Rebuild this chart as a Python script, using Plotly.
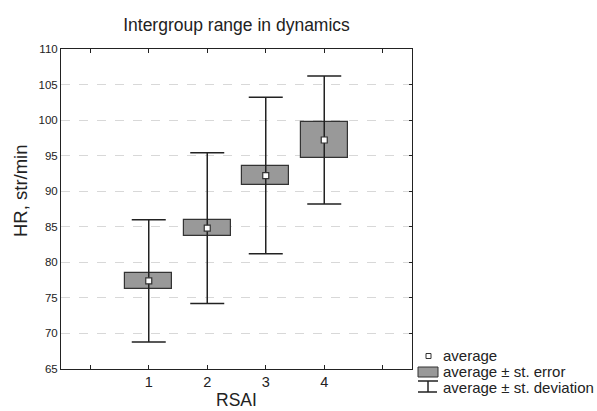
import plotly.graph_objects as go

categories = [1, 2, 3, 4]
mean_vals = [77.4, 84.8, 92.2, 97.2]
se_vals = [1.15, 1.1, 1.35, 2.55]
sd_vals = [8.6, 10.6, 11.0, 9.0]
y_ticks = [65, 70, 75, 80, 85, 90, 95, 100, 105, 110]

FONT = "Liberation Sans, Arial, sans-serif"
W, H = 597, 411
L, R, T, B = 61, 185, 49, 42
pw, ph = W - L - R, H - T - B

def px(x):
    return (x - L) / pw

def py(y):
    return (H - B - y) / ph

fig = go.Figure()

# whiskers (mean ± sd)
fig.add_trace(go.Scatter(
    x=categories, y=mean_vals, mode="markers",
    marker=dict(size=1, color="rgba(0,0,0,0)"),
    error_y=dict(type="data", array=sd_vals, symmetric=True,
                 color="#222", thickness=1.5, width=17),
    showlegend=False, hoverinfo="skip"))

# boxes (mean ± se)
fig.add_trace(go.Bar(
    x=categories,
    y=[2 * s for s in se_vals],
    base=[m - s for m, s in zip(mean_vals, se_vals)],
    width=0.8,
    marker=dict(color="#999999", line=dict(color="#333", width=1.2)),
    showlegend=False, hoverinfo="skip"))

# means
fig.add_trace(go.Scatter(
    x=categories, y=mean_vals, mode="markers",
    marker=dict(symbol="square", size=6, color="white",
                line=dict(color="#333", width=1.2)),
    showlegend=False, hoverinfo="skip"))

# invisible trace to activate right-hand tick axis
fig.add_trace(go.Scatter(x=[None], y=[None], yaxis="y2", showlegend=False,
                         hoverinfo="skip"))

fig.update_layout(
    width=W, height=H,
    margin=dict(l=L, r=R, t=T, b=B, autoexpand=False),
    paper_bgcolor="white", plot_bgcolor="white",
    font=dict(family=FONT, color="#222"),
    title=dict(text="Intergroup range in dynamics", x=(L + pw / 2) / W,
               xanchor="center", y=1 - 25 / H, yanchor="middle",
               font=dict(size=17.5, family=FONT, color="#222")),
    bargap=0,
    xaxis=dict(range=[-0.5, 5.5], tickvals=[0, 1, 2, 3, 4, 5],
               ticktext=["", "1", "2", "3", "4", ""],
               showgrid=False, zeroline=False, showline=True, linecolor="#222",
               linewidth=1, mirror="ticks", ticks="inside", ticklen=4,
               tickcolor="#222", tickfont=dict(size=14.5)),
    yaxis=dict(range=[65, 110], tickvals=y_ticks,
               showgrid=True, gridcolor="#d8d8d8", griddash="dash", gridwidth=1,
               zeroline=False, showline=True, linecolor="#222", linewidth=1,
               mirror=True, ticks="", tickfont=dict(size=11.5)),
    yaxis2=dict(range=[65, 110], tickvals=y_ticks, overlaying="y", side="right",
                showticklabels=False, ticks="inside", ticklen=3,
                tickcolor="#222", showgrid=False, zeroline=False,
                showline=False),
)

# axis titles as annotations (positioned as in reference)
fig.add_annotation(text="HR, str/min", xref="paper", yref="paper",
                   x=px(20), y=py(191), textangle=-90, showarrow=False,
                   xanchor="center", yanchor="middle",
                   font=dict(size=18.5, family=FONT, color="#222"))
fig.add_annotation(text="RSAI", xref="paper", yref="paper",
                   x=0.5, y=py(400), showarrow=False,
                   xanchor="center", yanchor="middle",
                   font=dict(size=17.5, family=FONT, color="#222"))

# legend (drawn manually)
fig.add_shape(type="rect", xref="paper", yref="paper",
              x0=px(426), x1=px(431), y0=py(358.5), y1=py(353.5),
              fillcolor="white", line=dict(color="#333", width=1))
fig.add_shape(type="rect", xref="paper", yref="paper",
              x0=px(418), x1=px(438), y0=py(377), y1=py(367),
              fillcolor="#999999", line=dict(color="#333", width=1))
fig.add_shape(type="line", xref="paper", yref="paper",
              x0=px(418), x1=px(438), y0=py(381), y1=py(381),
              line=dict(color="#222", width=1.5))
fig.add_shape(type="line", xref="paper", yref="paper",
              x0=px(428), x1=px(428), y0=py(381), y1=py(392),
              line=dict(color="#222", width=1.5))
fig.add_shape(type="line", xref="paper", yref="paper",
              x0=px(418), x1=px(437), y0=py(392), y1=py(392),
              line=dict(color="#222", width=1.5))
for text, yy in [("average", 355), ("average ± st. error", 371),
                 ("average ± st. deviation", 387)]:
    fig.add_annotation(text=text, xref="paper", yref="paper",
                       x=px(441), y=py(yy), xanchor="left", yanchor="middle",
                       showarrow=False, font=dict(size=15, family=FONT, color="#222"))

fig.write_html("out.html")
